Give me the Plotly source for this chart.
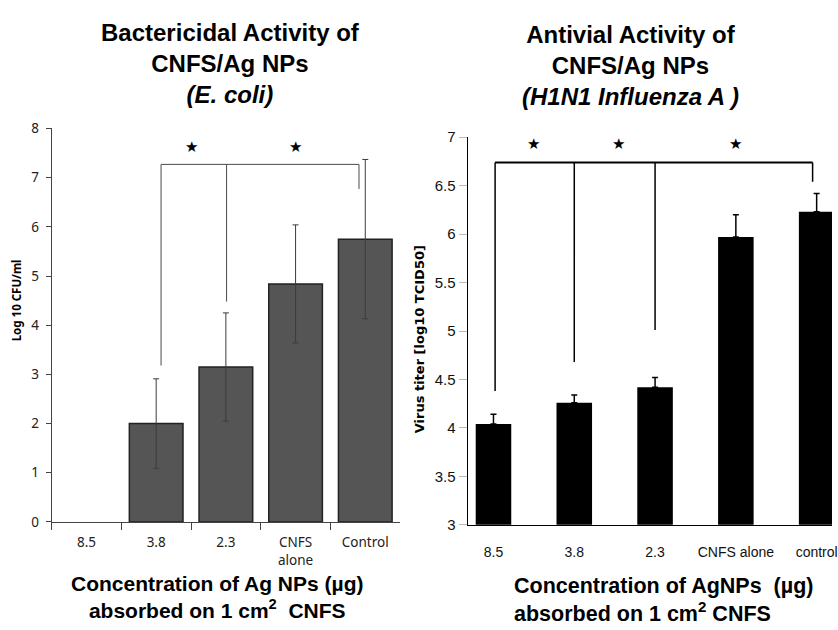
import plotly.graph_objects as go

# ---------------- data ----------------
left_categories = ["8.5", "3.8", "2.3", "CNFS<br>alone", "Control"]
left_values = [None, 2.0, 3.15, 4.84, 5.75]
left_errors = [None, 0.91, 1.1, 1.2, 1.62]
left_yticks = [0, 1, 2, 3, 4, 5, 6, 7, 8]

right_categories = ["8.5", "3.8", "2.3", "CNFS alone", "control"]
right_values = [4.04, 4.26, 4.42, 5.97, 6.23]
right_errors = [0.10, 0.08, 0.10, 0.23, 0.19]
right_yticks = [3, 3.5, 4, 4.5, 5, 5.5, 6, 6.5, 7]
right_yticktext = ["3", "3.5", "4", "4.5", "5", "5.5", "6", "6.5", "7"]

# significance brackets: (x index, bottom y) ; bracket level ; star positions
left_bracket_level = 7.27
left_bracket_drops = [(1.07, 3.18), (2.01, 4.48), (3.91, 6.77)]
left_stars = [(1.51, 7.62), (3.0, 7.62)]

right_bracket_level = 6.74
right_bracket_drops = [(0.02, 4.38), (1.0, 4.68), (2.0, 5.01), (3.95, 6.54)]
right_stars = [(0.5, 6.93), (1.55, 6.93), (3.0, 6.93)]

W, H = 838, 630

fig = go.Figure()

fig.add_trace(go.Bar(
    x=left_categories, y=left_values, xaxis="x", yaxis="y",
    marker=dict(color="#555555", line=dict(color="#222222", width=1.5)),
    width=0.77,
    error_y=dict(type="data", array=left_errors, visible=True,
                 color="#3c3c3c", thickness=1, width=3),
    showlegend=False,
))

fig.add_trace(go.Bar(
    x=right_categories, y=right_values, xaxis="x2", yaxis="y2",
    marker=dict(color="#000000", line=dict(color="#000000", width=0)),
    width=0.44,
    error_y=dict(type="data", symmetric=False, array=right_errors,
                 arrayminus=[0] * len(right_errors), visible=True,
                 color="#000000", thickness=1.5, width=3),
    showlegend=False,
))

shapes = []
# left bracket
xs = [d[0] for d in left_bracket_drops]
shapes.append(dict(type="line", xref="x", yref="y", x0=min(xs), x1=max(xs),
                   y0=left_bracket_level, y1=left_bracket_level,
                   line=dict(color="#4a4a4a", width=1)))
for x, yb in left_bracket_drops:
    shapes.append(dict(type="line", xref="x", yref="y", x0=x, x1=x,
                       y0=yb, y1=left_bracket_level,
                       line=dict(color="#4a4a4a", width=1)))
# right bracket
xs = [d[0] for d in right_bracket_drops]
shapes.append(dict(type="line", xref="x2", yref="y2", x0=min(xs), x1=max(xs),
                   y0=right_bracket_level, y1=right_bracket_level,
                   line=dict(color="#000000", width=2)))
for x, yb in right_bracket_drops:
    shapes.append(dict(type="line", xref="x2", yref="y2", x0=x, x1=x,
                       y0=yb, y1=right_bracket_level,
                       line=dict(color="#000000", width=1.5)))

annotations = []
for x, y in left_stars:
    annotations.append(dict(x=x, y=y, xref="x", yref="y", text="★", showarrow=False,
                            font=dict(size=15, color="black", family="DejaVu Sans")))
for x, y in right_stars:
    annotations.append(dict(x=x, y=y, xref="x2", yref="y2", text="★", showarrow=False,
                            font=dict(size=15, color="black", family="DejaVu Sans")))

title_font = dict(family="Liberation Sans, Arial, sans-serif", size=24, color="black")
def px(x):
    return x / W
def py(y):
    return 1 - y / H

# titles
annotations.append(dict(x=px(232), y=py(56), xref="paper", yref="paper",
                        text="<b>Bactericidal Activity of<br>CNFS/Ag NPs<br><i>(E. coli)</i></b>",
                        showarrow=False, xanchor="center", yanchor="middle", align="center",
                        font=title_font))
annotations.append(dict(x=px(635), y=py(58), xref="paper", yref="paper",
                        text="<b>Antivial Activity of<br>CNFS/Ag NPs<br><i>(H1N1 Influenza A )</i></b>",
                        showarrow=False, xanchor="center", yanchor="middle", align="center",
                        font=title_font))

# x titles
annotations.append(dict(x=px(219), y=py(605), xref="paper", yref="paper",
                        text="<b>Concentration of Ag NPs (µg)<br>absorbed on 1 cm<sup>2</sup>  CNFS</b>",
                        showarrow=False, xanchor="center", yanchor="middle", align="center",
                        font=dict(family="Liberation Sans, Arial, sans-serif", size=21, color="black")))
annotations.append(dict(x=px(516), y=py(608), xref="paper", yref="paper",
                        text="<b>Concentration of AgNPs&nbsp; (µg)<br>absorbed on 1 cm<sup>2</sup> CNFS</b>",
                        showarrow=False, xanchor="left", yanchor="middle", align="left",
                        font=dict(family="Liberation Sans, Arial, sans-serif", size=21.5, color="black")))
# y titles
annotations.append(dict(x=px(17), y=py(300), xref="paper", yref="paper",
                        text="<b>Log 10 CFU/ml</b>", showarrow=False, textangle=-90,
                        xanchor="center", yanchor="middle",
                        font=dict(family="Noto Sans, sans-serif", size=11.5, color="black")))
annotations.append(dict(x=px(422), y=py(340), xref="paper", yref="paper",
                        text="<b>Virus titer [log10 TCID50]</b>", showarrow=False, textangle=-90,
                        xanchor="center", yanchor="middle",
                        font=dict(family="DejaVu Sans, sans-serif", size=13, color="black")))

fig.update_layout(
    width=W, height=H,
    margin=dict(l=0, r=0, t=0, b=0),
    paper_bgcolor="white", plot_bgcolor="white",
    bargap=0.23,
    xaxis=dict(domain=[px(52), px(403)], anchor="y", type="category",
               range=[-0.5, 4.5], showline=True, linecolor="#444", linewidth=1,
               ticks="outside", tickson="boundaries", ticklen=7, tickcolor="#444",
               ticklabelstandoff=8,
               showgrid=False, zeroline=False,
               tickfont=dict(family="Noto Sans, sans-serif", size=13.5, color="#222")),
    yaxis=dict(domain=[py(528), py(123)], anchor="x", range=[0, 8],
               tickvals=left_yticks, showline=True, linecolor="#444", linewidth=1,
               ticks="outside", ticklen=5, tickcolor="#444", showgrid=False, zeroline=False,
               ticklabelstandoff=4,
               tickfont=dict(family="Noto Sans, sans-serif", size=13.5, color="#222")),
    xaxis2=dict(domain=[px(471), 1.0], anchor="y2", type="category",
                range=[-0.32, 4.19], showline=True, linecolor="#000", linewidth=1,
                ticks="", showgrid=False, zeroline=False, ticklabelstandoff=14,
                tickfont=dict(family="Liberation Sans Narrow, Arial Narrow, sans-serif",
                              size=14, color="#111")),
    yaxis2=dict(domain=[py(531), py(132)], anchor="x2", range=[3, 7],
                tickvals=right_yticks, ticktext=right_yticktext,
                showline=True, linecolor="#000", linewidth=1,
                ticks="outside", ticklen=8, tickcolor="#bbb", showgrid=False, zeroline=False,
                tickfont=dict(family="Liberation Sans Narrow, Arial Narrow, sans-serif",
                              size=15, color="#111")),
    shapes=shapes,
    annotations=annotations,
)

fig.write_html("out.html")
